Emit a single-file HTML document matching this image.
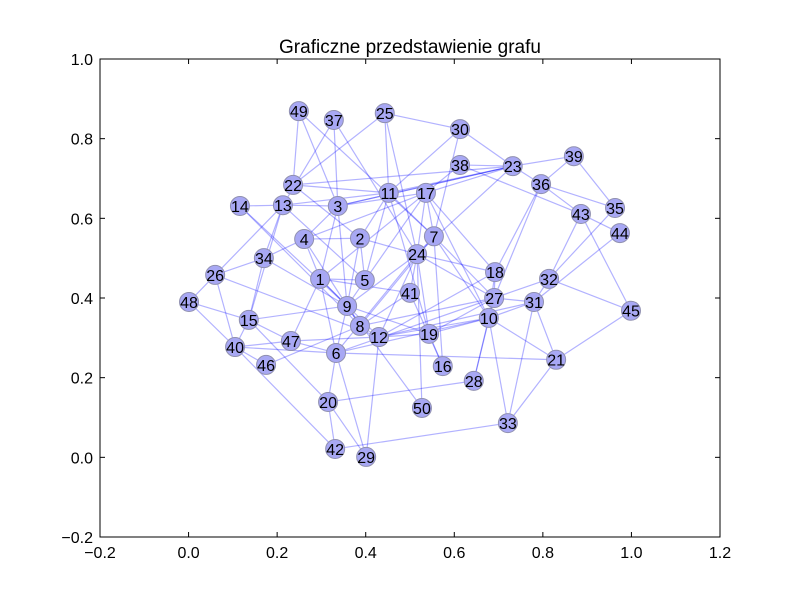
<!DOCTYPE html>
<html><head><meta charset="utf-8"><style>
body{margin:0;background:#fff;}
svg{display:block;font-family:"Liberation Sans",sans-serif;}
</style></head><body>
<svg id="chart" width="800" height="597">
<rect width="800" height="597" fill="#fff"/>
<text x="410" y="53" font-size="19" text-anchor="middle">Graficzne przedstawienie grafu</text>
<g id="edges"></g>
<g id="nodes"></g>
<rect x="100" y="59" width="620" height="478" fill="none" stroke="#000" stroke-width="1"/>
<g id="axes"></g>
</svg>
<script>
const nodeIds=[49,37,25,30,38,23,39,36,22,11,17,14,13,3,43,35,44,4,2,7,24,34,26,1,5,18,32,48,41,27,31,9,45,10,15,8,12,19,47,40,6,46,16,21,28,20,50,33,42,29];
const nodeX=[0.249,0.328,0.443,0.613,0.613,0.732,0.870,0.796,0.236,0.452,0.536,0.116,0.213,0.337,0.886,0.963,0.974,0.261,0.387,0.554,0.516,0.170,0.060,0.297,0.398,0.692,0.814,0.001,0.500,0.690,0.780,0.358,0.999,0.678,0.136,0.387,0.430,0.543,0.231,0.105,0.333,0.175,0.574,0.830,0.644,0.315,0.527,0.721,0.331,0.401];
const nodeY=[0.869,0.847,0.864,0.824,0.734,0.731,0.756,0.686,0.684,0.664,0.664,0.631,0.633,0.631,0.611,0.626,0.563,0.548,0.550,0.555,0.510,0.500,0.458,0.448,0.445,0.465,0.448,0.390,0.413,0.400,0.390,0.380,0.368,0.350,0.345,0.330,0.302,0.310,0.292,0.277,0.262,0.232,0.229,0.245,0.192,0.139,0.124,0.086,0.021,0.001];
const edgeFrom=[49,49,49,37,37,37,25,25,25,25,22,22,22,14,14,13,13,13,13,13,13,3,3,3,3,3,4,4,4,4,4,2,2,2,2,34,34,34,26,26,26,30,30,30,38,38,38,23,23,23,23,23,23,36,36,36,39,39,35,35,43,43,43,17,17,17,17,17,17,11,11,11,7,7,7,7,7,24,24,24,24,24,24,24,24,18,18,18,27,27,27,27,27,31,31,31,31,32,32,32,10,10,10,10,21,21,21,19,41,41,41,33,28,50,48,48,15,15,15,15,40,40,40,40,47,47,47,46,1,1,1,1,9,9,9,8,6,6,6,20,20,12,12,12,14,44];
const edgeTo=[22,3,7,13,3,24,22,11,30,24,11,2,23,13,9,11,3,26,34,15,5,4,1,9,17,23,2,34,17,1,8,5,24,9,11,26,9,15,48,40,12,23,11,7,23,43,17,17,39,36,11,24,3,43,18,27,35,36,32,36,44,32,45,7,24,18,10,1,9,7,5,19,24,27,10,8,16,41,50,18,12,9,6,27,19,27,10,12,10,31,28,19,8,10,21,33,12,31,45,6,21,33,19,28,45,33,6,16,1,8,16,42,20,9,15,40,40,47,20,9,47,46,6,42,6,12,1,8,6,9,5,12,8,6,19,12,20,29,10,42,29,29,19,10,8,31];
const X0=-0.2,X1=1.2,Y0=-0.2,Y1=1.0,L=100,R=720,T=59,B=537;
const sx=v=>L+(v-X0)/(X1-X0)*(R-L);
const sy=v=>B-(v-Y0)/(Y1-Y0)*(B-T);
const NS='http://www.w3.org/2000/svg';
function pos(id){const i=nodeIds.indexOf(id);return [sx(nodeX[i]),sy(nodeY[i])];}
const eg=document.getElementById('edges');
for(let k=0;k<edgeFrom.length;k++){
  const a=pos(edgeFrom[k]),b=pos(edgeTo[k]);
  const ln=document.createElementNS(NS,'line');
  ln.setAttribute('x1',a[0]);ln.setAttribute('y1',a[1]);ln.setAttribute('x2',b[0]);ln.setAttribute('y2',b[1]);
  ln.setAttribute('stroke','rgba(0,0,255,0.3)');ln.setAttribute('stroke-width','1.2');
  
  
  eg.appendChild(ln);
}
const ng=document.getElementById('nodes');
for(let i=0;i<nodeIds.length;i++){
  const g=document.createElementNS(NS,'g');
  
  
  const c=document.createElementNS(NS,'circle');
  c.setAttribute('cx',sx(nodeX[i]));c.setAttribute('cy',sy(nodeY[i]));c.setAttribute('r','9.5');
  c.setAttribute('fill','#a8a8f4');c.setAttribute('stroke','#9090b0');c.setAttribute('stroke-width','1');
  g.appendChild(c);
  const t=document.createElementNS(NS,'text');
  t.setAttribute('x',sx(nodeX[i]));t.setAttribute('y',sy(nodeY[i])+6);
  t.setAttribute('text-anchor','middle');t.setAttribute('font-size','16');
  t.textContent=nodeIds[i];
  g.appendChild(t);
  ng.appendChild(g);
}
const xTicks=[-0.2,0.0,0.2,0.4,0.6,0.8,1.0,1.2];
const xLabels=['\u22120.2','0.0','0.2','0.4','0.6','0.8','1.0','1.2'];
const yTicks=[-0.2,0.0,0.2,0.4,0.6,0.8,1.0];
const yLabels=['\u22120.2','0.0','0.2','0.4','0.6','0.8','1.0'];
const ax=document.getElementById('axes');
function add(tag,attrs,name,txt){const e=document.createElementNS(NS,tag);for(const k in attrs)e.setAttribute(k,attrs[k]);

if(txt!==undefined)e.textContent=txt;ax.appendChild(e);}
xTicks.forEach((v,i)=>{const x=sx(v);
  add('line',{x1:x,y1:B,x2:x,y2:B-5,stroke:'#000'},'x-tick');
  add('line',{x1:x,y1:T,x2:x,y2:T+5,stroke:'#000'},'x-tick-top');
  add('text',{x:x,y:B+21,'font-size':'16','text-anchor':'middle'},'x-tick-label',xLabels[i]);});
yTicks.forEach((v,i)=>{const y=sy(v);
  add('line',{x1:L,y1:y,x2:L+5,y2:y,stroke:'#000'},'y-tick');
  add('line',{x1:R,y1:y,x2:R-5,y2:y,stroke:'#000'},'y-tick-right');
  add('text',{x:L-7,y:y+6,'font-size':'16','text-anchor':'end'},'y-tick-label',yLabels[i]);});
</script>
</body></html>
